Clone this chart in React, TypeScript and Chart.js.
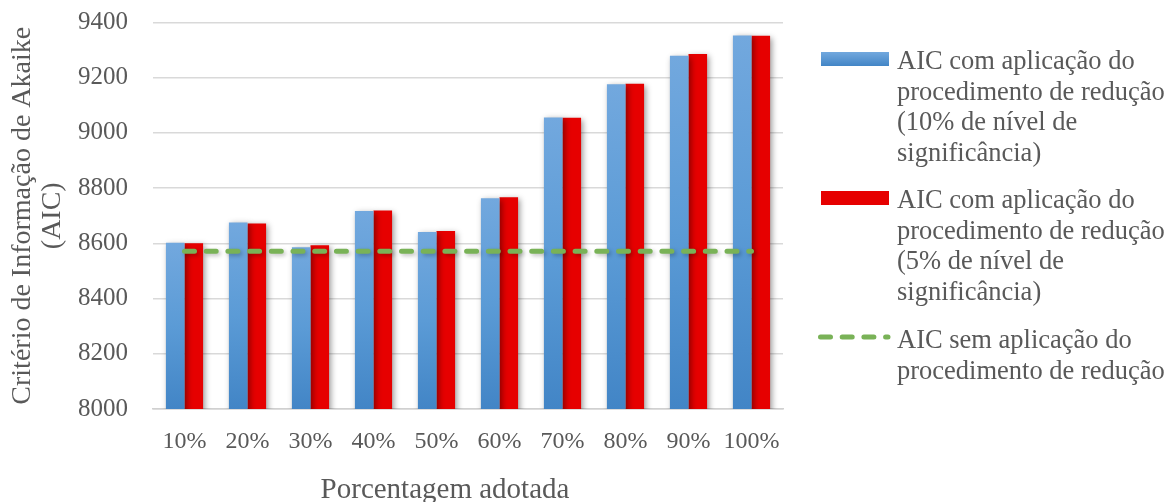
import React, { useEffect, useRef } from 'react';
import { Chart, registerables } from 'chart.js';

Chart.register(...registerables);

const categories = ['10%', '20%', '30%', '40%', '50%', '60%', '70%', '80%', '90%', '100%'];
const seriesAic10 = [8602, 8676, 8586, 8717, 8641, 8763, 9056, 9176, 9280, 9353];
const seriesAic5 = [8600, 8672, 8593, 8719, 8645, 8767, 9055, 9178, 9286, 9352];
const seriesSemReducao = [8571, 8571, 8571, 8571, 8571, 8571, 8571, 8571, 8571, 8571];
const yTicks = [8000, 8200, 8400, 8600, 8800, 9000, 9200, 9400];

const legendAic10 = ['AIC com aplicação do', 'procedimento de redução', '(10% de nível de', 'significância)'];
const legendAic5 = ['AIC com aplicação do', 'procedimento de redução', '(5% de nível de', 'significância)'];
const legendSem = ['AIC sem aplicação do', 'procedimento de redução'];
const xTitle = 'Porcentagem adotada';
const yTitle = ['Critério de Informação de Akaike', '(AIC)'];

const FONT = '"Liberation Serif", "Times New Roman", serif';
const TEXT = '#595959';
const BLUE_TOP = '#72A8DE';
const BLUE_MID = '#5B9BD6';
const BLUE_BOT = '#4285C6';
const RED = '#E60000';
const GREEN = '#79B257';

function blueFill(ctx: any) {
  const chart = ctx.chart;
  const y = chart.scales && chart.scales.y;
  if (ctx.type !== 'data' || !y || !chart.chartArea || ctx.raw == null) return BLUE_MID;
  const top = y.getPixelForValue(ctx.raw);
  const bottom = y.getPixelForValue(y.min);
  const g = chart.ctx.createLinearGradient(0, top, 0, bottom);
  g.addColorStop(0, BLUE_TOP);
  g.addColorStop(0.5, BLUE_MID);
  g.addColorStop(1, BLUE_BOT);
  return g;
}

const shadowPlugin = {
  id: 'shadowPlugin',
  beforeDatasetDraw(chart: any, args: any) {
    const c = chart.ctx;
    c.save();
    const isLine = chart.data.datasets[args.index].type === 'line';
    c.shadowColor = isLine ? 'rgba(0,0,0,0.25)' : 'rgba(0,0,0,0.4)';
    c.shadowBlur = isLine ? 4 : 6;
    c.shadowOffsetX = 2;
    c.shadowOffsetY = 2;
  },
  afterDatasetDraw(chart: any) {
    chart.ctx.restore();
  },
};

const xTitlePlugin = {
  id: 'xTitlePlugin',
  afterDraw(chart: any) {
    const c = chart.ctx;
    c.save();
    c.font = `29px ${FONT}`;
    c.fillStyle = TEXT;
    c.textAlign = 'center';
    c.textBaseline = 'alphabetic';
    c.fillText(xTitle, 445, 498);
    c.restore();
  },
};

export default function App() {
  const canvasRef = useRef<HTMLCanvasElement | null>(null);

  useEffect(() => {
    if (!canvasRef.current) return;
    const chart = new Chart(canvasRef.current, {
      type: 'bar',
      data: {
        labels: categories,
        datasets: [
          {
            type: 'bar',
            label: legendAic10.join(' '),
            data: seriesAic10,
            backgroundColor: blueFill,
            borderWidth: 0,
            categoryPercentage: 0.59,
            barPercentage: 1,
            order: 1,
          },
          {
            type: 'bar',
            label: legendAic5.join(' '),
            data: seriesAic5,
            backgroundColor: RED,
            borderWidth: 0,
            categoryPercentage: 0.59,
            barPercentage: 1,
            order: 1,
          },
          {
            type: 'line',
            label: legendSem.join(' '),
            data: seriesSemReducao,
            borderColor: GREEN,
            borderWidth: 5,
            borderDash: [10, 11.7],
            borderCapStyle: 'round',
            pointRadius: 0,
            fill: false,
            tension: 0,
            order: 0,
          },
        ],
      } as any,
      options: {
        animation: false,
        responsive: false,
        devicePixelRatio: 1,
        layout: { padding: { top: 22.5, right: 389, bottom: 0, left: 0 } },
        plugins: {
          legend: { display: false },
          tooltip: { enabled: false },
        },
        scales: {
          x: {
            offset: true,
            grid: { display: false, drawTicks: false },
            border: { display: true, color: '#D0D0D0', width: 1.5 },
            ticks: {
              color: TEXT,
              font: { family: FONT, size: 24 },
              padding: 18,
              maxRotation: 0,
              autoSkip: false,
            },
            afterFit(scale: any) {
              scale.height = 93;
            },
          },
          y: {
            min: 8000,
            max: 9400,
            afterBuildTicks(scale: any) {
              scale.ticks = yTicks.map((v) => ({ value: v }));
            },
            grid: { color: '#D9D9D9', lineWidth: 1.5, drawTicks: false },
            border: { display: false },
            ticks: {
              color: TEXT,
              font: { family: FONT, size: 25 },
              padding: 25,
              callback: (v: any) => String(v),
            },
            title: {
              display: true,
              text: yTitle,
              color: TEXT,
              font: { family: FONT, size: 28, lineHeight: 30 / 28 },
              padding: { top: 8, bottom: 0 },
            },
            afterFit(scale: any) {
              scale.width = 153;
              scale.paddingTop = 0;
              scale.paddingBottom = 0;
            },
          },
        },
      } as any,
      plugins: [shadowPlugin, xTitlePlugin],
    });
    return () => chart.destroy();
  }, []);

  const textStyle: React.CSSProperties = {
    position: 'absolute',
    left: 897,
    fontFamily: FONT,
    fontSize: 26.5,
    lineHeight: '30.5px',
    color: TEXT,
    whiteSpace: 'nowrap',
    margin: 0,
  };

  return (
    <div style={{ position: 'fixed', left: 0, top: 0, width: 1172, height: 502, background: '#FFFFFF', overflow: 'hidden' }}>
      <canvas ref={canvasRef} width={1172} height={502} style={{ position: 'absolute', left: 0, top: 0, width: 1172, height: 502 }} />
      <div style={{ position: 'absolute', left: 821, top: 52, width: 68, height: 14, background: `linear-gradient(${BLUE_TOP}, ${BLUE_BOT})` }} />
      <div style={{ ...textStyle, top: 45 }}>
        {legendAic10.map((l, i) => (
          <div key={i}>{l}</div>
        ))}
      </div>
      <div style={{ position: 'absolute', left: 821, top: 191, width: 68, height: 14, background: RED }} />
      <div style={{ ...textStyle, top: 184 }}>
        {legendAic5.map((l, i) => (
          <div key={i}>{l}</div>
        ))}
      </div>
      <svg style={{ position: 'absolute', left: 812, top: 327 }} width={84} height={20}>
        <line x1={8.5} y1={10} x2={76} y2={10} stroke={GREEN} strokeWidth={5} strokeLinecap="round" strokeDasharray="10 11.7" />
      </svg>
      <div style={{ ...textStyle, top: 324 }}>
        {legendSem.map((l, i) => (
          <div key={i}>{l}</div>
        ))}
      </div>
    </div>
  );
}
